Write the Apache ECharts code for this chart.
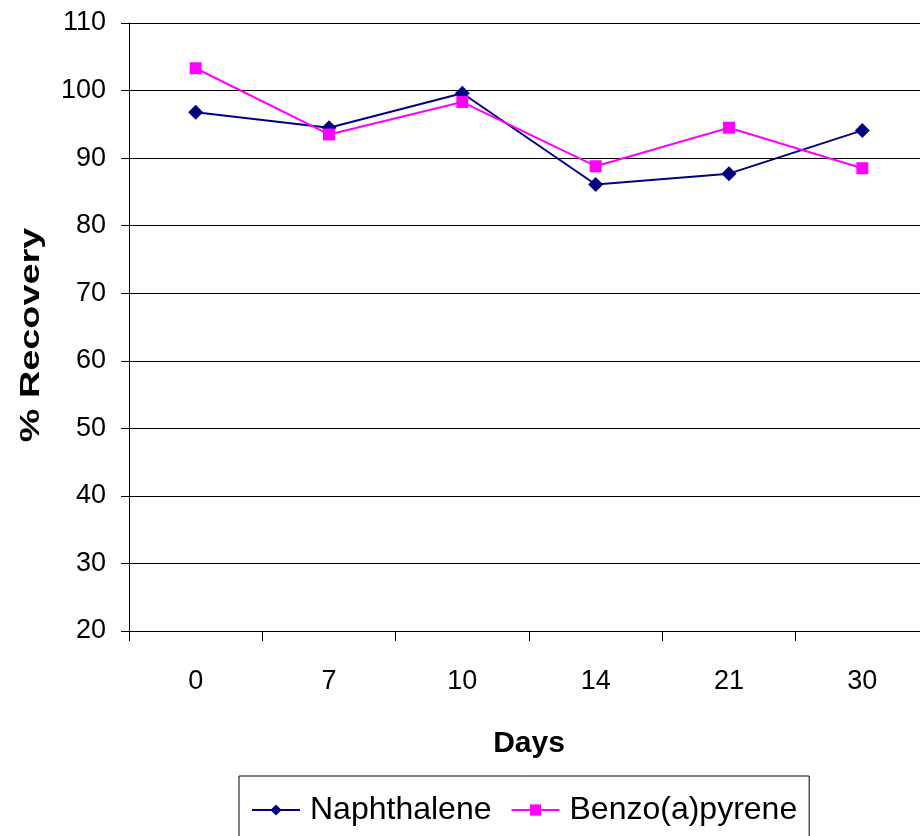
<!DOCTYPE html>
<html>
<head>
<meta charset="utf-8">
<script src="https://cdn.jsdelivr.net/npm/echarts@6/dist/echarts.min.js"></script>
<style>
html,body{margin:0;padding:0;background:#fff;}
#chart{width:920px;height:836px;}
</style>
</head>
<body>
<div id="chart"></div>
<script>
const days = ['0', '7', '10', '14', '21', '30'];
const naphthalene = [96.8, 94.5, 99.6, 86.1, 87.7, 94.1];
const benzoPyrene = [103.3, 93.5, 98.3, 88.8, 94.5, 88.5];
const yTicks = {min: 20, max: 110, interval: 10};

const FONT = "'Liberation Sans', Arial, sans-serif";
const chart = echarts.init(document.getElementById('chart'), null, {renderer: 'canvas'});
chart.setOption({
  animation: false,
  backgroundColor: '#fff',
  grid: {left: 129, top: 23, width: 800, height: 608, containLabel: false, outerBoundsMode: 'none'},
  xAxis: {
    type: 'category',
    data: days,
    boundaryGap: true,
    name: 'Days',
    nameLocation: 'middle',
    nameGap: 98,
    nameTextStyle: {fontFamily: FONT, fontSize: 30, fontWeight: 'bold', color: '#000'},
    axisLine: {lineStyle: {color: '#000', width: 1}},
    axisTick: {show: true, length: 10, inside: false, lineStyle: {color: '#000'}},
    axisLabel: {margin: 37, fontFamily: FONT, fontSize: 27, color: '#000'},
    splitLine: {show: false}
  },
  yAxis: {
    type: 'value',
    min: yTicks.min,
    max: yTicks.max,
    interval: yTicks.interval,
    axisLine: {show: true, lineStyle: {color: '#000', width: 1}},
    axisTick: {show: true, length: 8, lineStyle: {color: '#000'}},
    axisLabel: {margin: 23, fontFamily: FONT, fontSize: 27, color: '#000'},
    splitLine: {show: true, lineStyle: {color: '#000', width: 1}}
  },
  legend: {
    left: 239,
    top: 776,
    orient: 'horizontal',
    itemWidth: 48,
    itemHeight: 14,
    itemGap: 19,
    padding: [18, 12, 22, 12],
    borderColor: '#000',
    borderWidth: 1,
    borderRadius: 0,
    backgroundColor: '#fff',
    textStyle: {fontFamily: FONT, fontSize: 32, color: '#000', padding: [0, 0, 0, 5]},
    data: ['Naphthalene', 'Benzo(a)pyrene']
  },
  graphic: [{
    type: 'text',
    x: 32,
    y: 335,
    rotation: Math.PI / 2,
    scaleX: 1.4,
    style: {
      text: '% Recovery',
      font: "bold 27px 'Liberation Sans', Arial, sans-serif",
      fill: '#000',
      align: 'center',
      verticalAlign: 'middle'
    }
  }],
  series: [
    {
      name: 'Naphthalene',
      type: 'line',
      data: naphthalene,
      symbol: 'diamond',
      symbolSize: 15,
      lineStyle: {color: '#000080', width: 2},
      itemStyle: {color: '#000080'}
    },
    {
      name: 'Benzo(a)pyrene',
      type: 'line',
      data: benzoPyrene,
      symbol: 'rect',
      symbolSize: 12,
      lineStyle: {color: '#FF00FF', width: 2},
      itemStyle: {color: '#FF00FF'}
    }
  ]
});
</script>
</body>
</html>
